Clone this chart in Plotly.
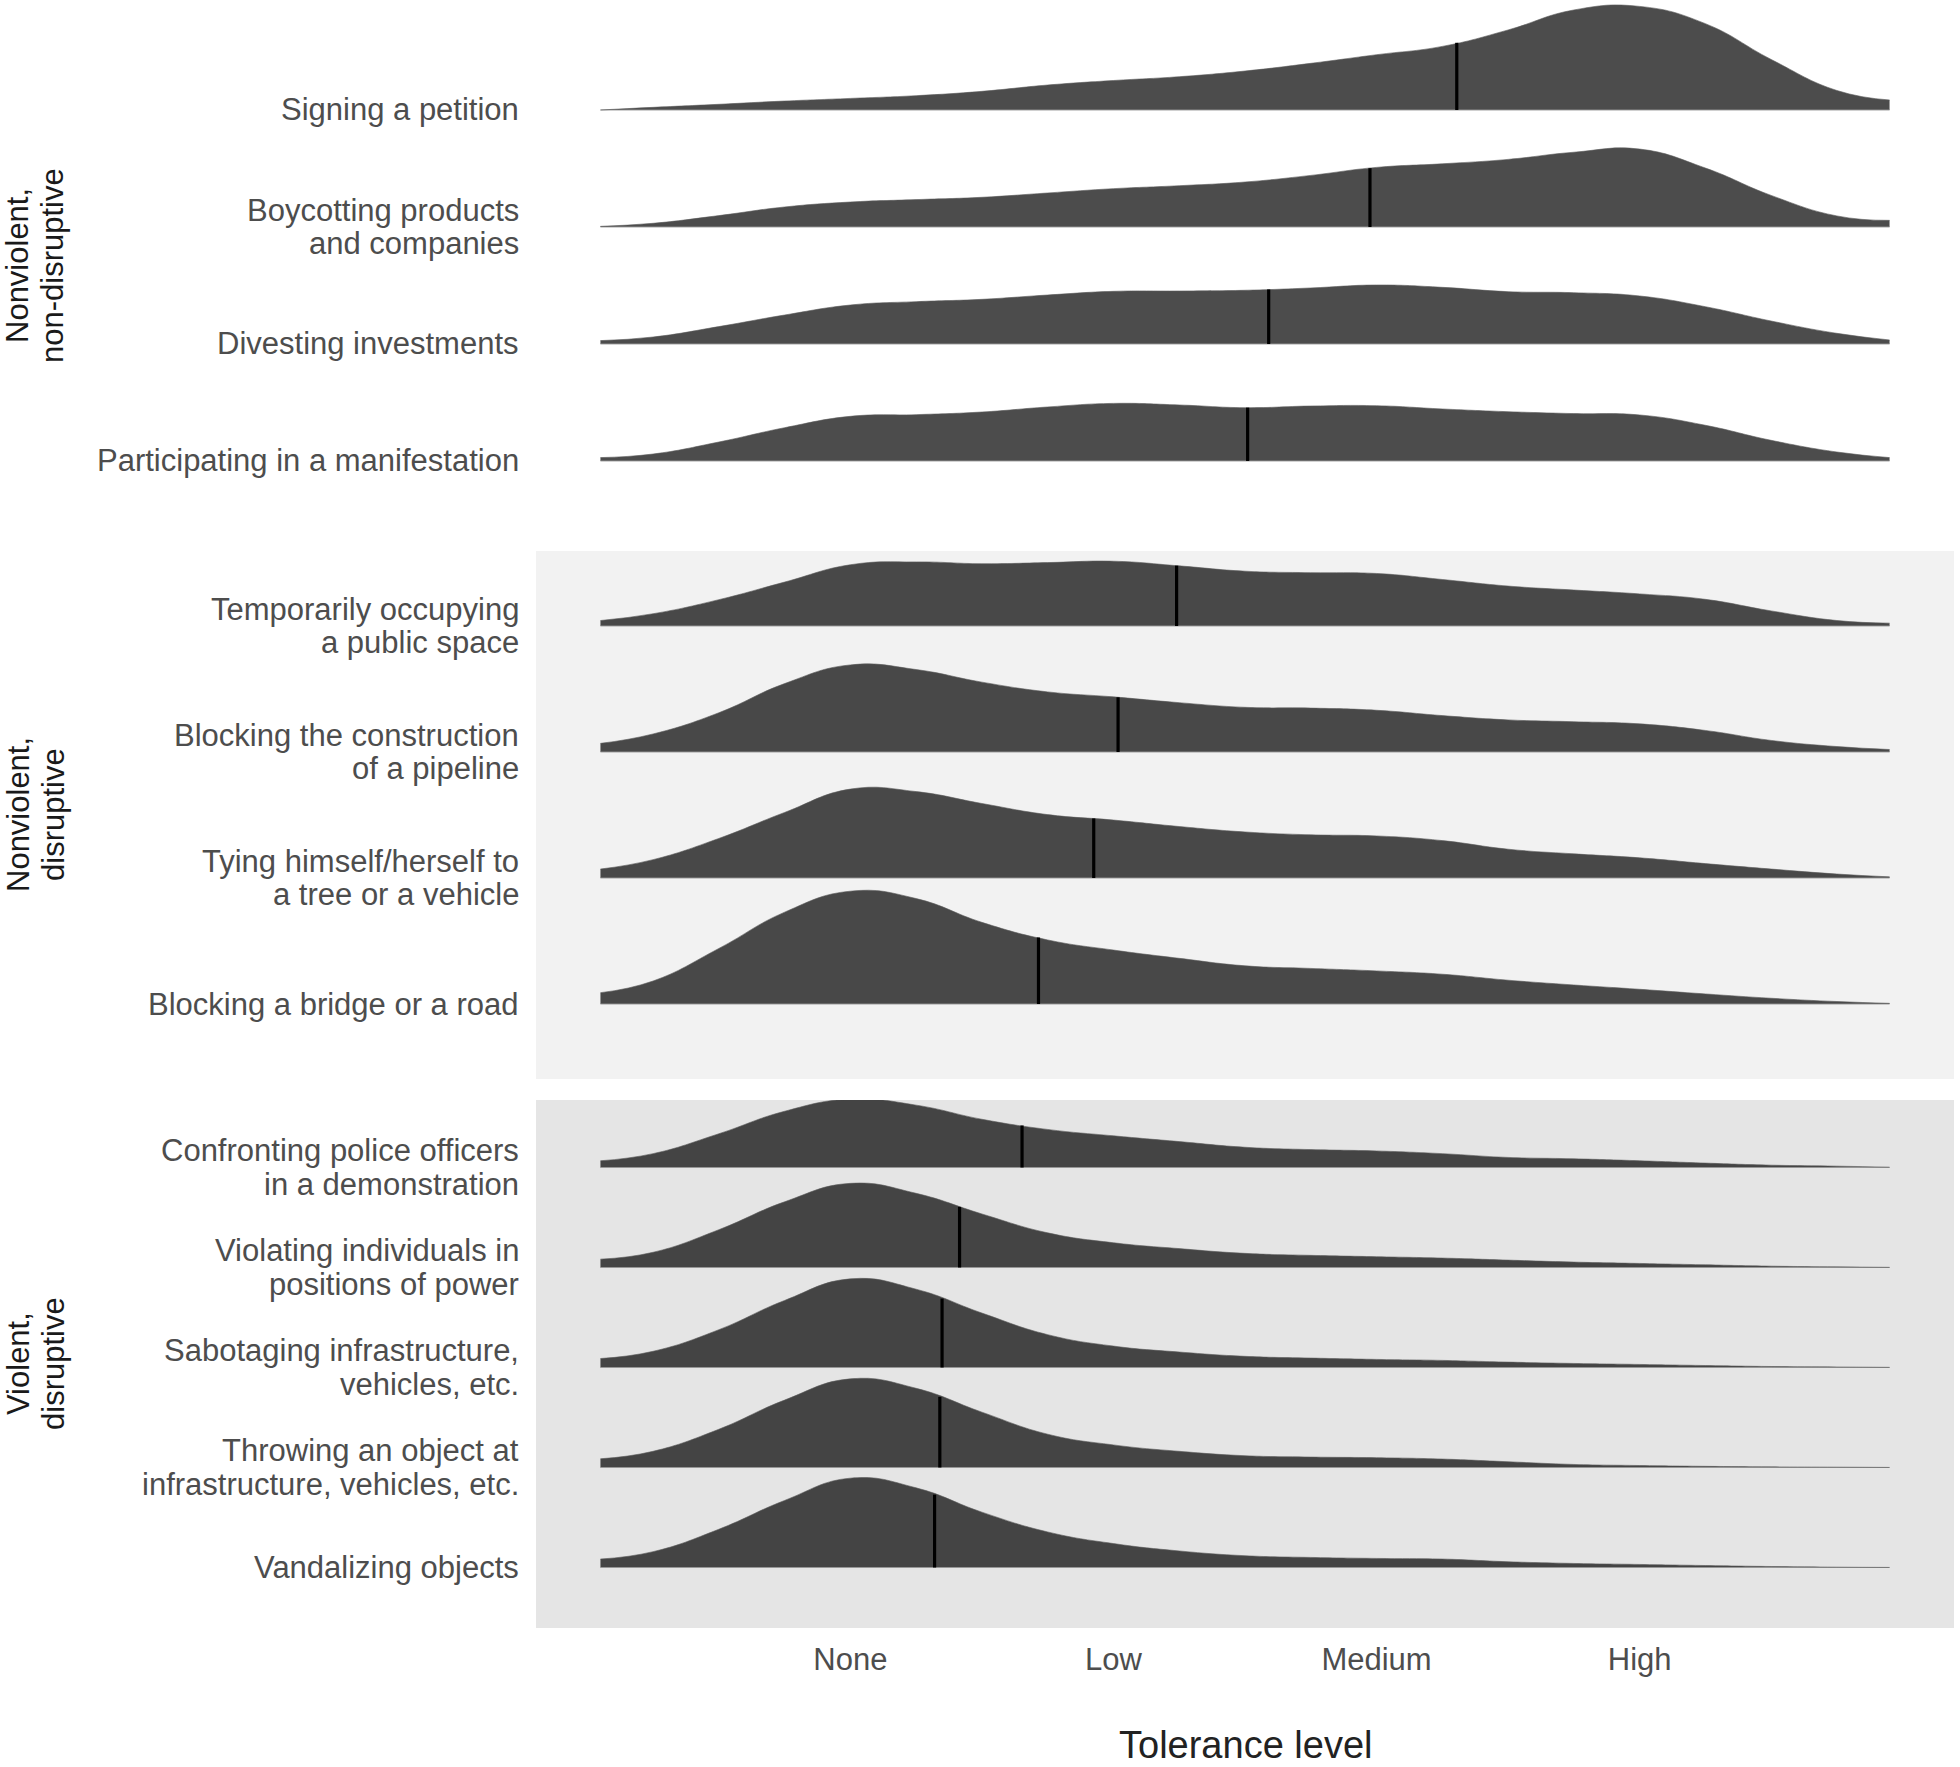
import numpy as np
import plotly.graph_objects as go

W, H = 1960, 1767

# ---------------- data ----------------
x_grid = [1, 5, 10, 15, 20, 25, 30, 35, 40, 45, 50, 55, 60, 65, 70, 75, 80, 85, 90, 95, 99]

tick_vals = [20, 40, 60, 80]
tick_text = ["None", "Low", "Medium", "High"]

group_titles = ["Nonviolent,\nnon-disruptive", "Nonviolent,\ndisruptive", "Violent,\ndisruptive"]

# group 1 (top to bottom)
labels_g1 = ["Signing a petition", "Boycotting products\nand companies",
             "Divesting investments", "Participating in a manifestation"]
dens_signing = [0, 2.5, 5.4, 8.5, 11, 13.6, 17.7, 23.7, 28, 31.6, 37, 44.3, 52.5, 60.4, 76, 95, 98.4, 82, 48, 18.5, 9.5]
dens_boycott = [0.6, 3.5, 10.8, 19, 23.7, 26, 28.2, 32.3, 36.4, 39.2, 42.7, 49, 56.6, 60, 64.2, 71, 74, 56, 30, 10.5, 6.3]
dens_divest = [3.2, 6.6, 16.5, 27.5, 37, 40.2, 42.4, 46.5, 50, 50.3, 51, 53.2, 56, 53.8, 49.7, 48.7, 45.6, 35.4, 21.8, 10.1, 3.8]
dens_manif = [3.2, 6.6, 18, 31.6, 42.4, 44, 46.5, 51.3, 54.7, 53.2, 50.6, 52.2, 52.5, 49.4, 46.8, 45, 43.7, 33.9, 19.6, 8.5, 3.2]
medians_g1 = [66.1, 59.5, 51.8, 50.2]

# group 2
labels_g2 = ["Temporarily occupying\na public space", "Blocking the construction\nof a pipeline",
             "Tying himself/herself to\na tree or a vehicle", "Blocking a bridge or a road"]
dens_occupy = [4.8, 10.8, 23.2, 38.7, 54, 56.5, 54.9, 55.9, 57.1, 53, 48.3, 47, 46.3, 41, 35.2, 31.7, 28.3, 23.5, 13.3, 4.8, 2.5]
dens_pipeline = [7.6, 15.9, 34.6, 60.3, 76.8, 72.7, 61.6, 53, 48.6, 43.5, 39.4, 38.7, 36.8, 32.1, 28.3, 26.7, 24.8, 19, 10.2, 4.8, 2.2]
dens_tying = [7.9, 16.2, 34.9, 57.8, 78.4, 76.2, 65.7, 55.9, 51.1, 45.4, 40.6, 38.1, 37.1, 33, 25.4, 21.3, 17.8, 12.7, 7.9, 3.5, 1]
dens_bridge = [10, 20.3, 49, 81, 99.5, 93, 72, 56.5, 47.6, 40.3, 33.7, 31.4, 29.2, 26.3, 21, 16.8, 13, 8.9, 5.1, 2.2, 0.6]
medians_g2 = [44.8, 40.35, 38.5, 34.3]

# group 3
labels_g3 = ["Confronting police officers\nin a demonstration", "Violating individuals in\npositions of power",
             "Sabotaging infrastructure,\nvehicles, etc.", "Throwing an object at\ninfrastructure, vehicles, etc.",
             "Vandalizing objects"]
dens_police = [7.5, 15.4, 37.5, 62.5, 76, 69.3, 53.6, 42.3, 35.2, 28.8, 22.5, 19.9, 18.4, 15.4, 11.2, 9.7, 7.5, 4.9, 2.6, 1.5, 0.4]
dens_violating = [9.3, 16.9, 42, 73, 93.5, 82.4, 59.5, 38.5, 27.5, 21, 15.7, 13.5, 12, 10.5, 8.2, 6, 4.5, 3, 1.5, 0.7, 0.2]
dens_sabotage = [10, 18, 42, 74.5, 98.5, 87, 60.5, 36.5, 23.8, 17.2, 12.4, 10.5, 9, 7.9, 6, 4.5, 3.4, 2.2, 1.1, 0.6, 0.2]
dens_throwing = [9.7, 18, 42.5, 74.9, 98.5, 88, 61.5, 37, 25.1, 18, 13.1, 11.6, 10.9, 9.4, 6.4, 3.4, 2.2, 1.3, 0.7, 0.4, 0.1]
dens_vandal = [9.4, 17.6, 42.5, 74.5, 99.3, 88.5, 61.5, 39.5, 26.6, 18.4, 13.1, 11.2, 10.1, 9.4, 6.4, 4.5, 3.4, 2.2, 1.1, 0.4, 0.1]
medians_g3 = [33.05, 28.3, 26.97, 26.8, 26.4]

groups = [
    (labels_g1, [dens_signing, dens_boycott, dens_divest, dens_manif], medians_g1),
    (labels_g2, [dens_occupy, dens_pipeline, dens_tying, dens_bridge], medians_g2),
    (labels_g3, [dens_police, dens_violating, dens_sabotage, dens_throwing, dens_vandal], medians_g3),
]

# ---------------- layout geometry (pixels) ----------------
panel_left, panel_right = 536, 1954
panels_px = [(2, 530), (551, 1079), (1100, 1628)]
y_ranges = [(0.41, 4.923), (0.405, 4.595), (0.395, 5.675)]
panel_bg = [None, "#f2f2f2", "#e5e5e5"]
ridge_scale = 0.9
label_right_px = 521
line_gap_px = 33.75

FONT = "Liberation Sans, Arial, sans-serif"
fill_col = "rgba(0,0,0,0.7)"

fig = go.Figure()
annotations = []
shapes = []

for gi, (labels, dens_list, meds) in enumerate(groups):
    yname = "y" if gi == 0 else f"y{gi + 1}"
    n = len(labels)
    for ri, (lab, dens, med) in enumerate(zip(labels, dens_list, meds)):
        row = n - ri  # top row has largest index
        h = np.array(dens) / 100.0 * ridge_scale
        fig.add_trace(go.Scatter(x=x_grid, y=[row] * len(x_grid), mode="lines",
                                 line=dict(color="rgba(150,150,150,0.9)", width=1),
                                 xaxis="x", yaxis=yname, hoverinfo="skip", showlegend=False))
        fig.add_trace(go.Scatter(x=x_grid, y=row + h, mode="lines", fill="tonexty",
                                 fillcolor=fill_col,
                                 line=dict(color="rgba(90,90,90,0.6)", width=1, shape="spline", smoothing=1.3),
                                 xaxis="x", yaxis=yname, hoverinfo="skip", showlegend=False))
        hm = float(np.interp(med, x_grid, h))
        fig.add_trace(go.Scatter(x=[med, med], y=[row, row + hm], mode="lines",
                                 line=dict(color="black", width=3.2),
                                 xaxis="x", yaxis=yname, hoverinfo="skip", showlegend=False))
        lines = lab.split("\n")
        k = len(lines)
        for li, txt in enumerate(lines):
            shift = ((k - 1) / 2.0 - li) * line_gap_px
            annotations.append(dict(x=label_right_px / W, xref="paper", y=row, yref=yname,
                                    yshift=shift, text=txt, showarrow=False,
                                    xanchor="right", yanchor="middle",
                                    font=dict(family=FONT, size=31, color="#4d4d4d")))
    top, bot = panels_px[gi]
    if panel_bg[gi]:
        shapes.append(dict(type="rect", xref="paper", yref="paper",
                           x0=panel_left / W, x1=panel_right / W,
                           y0=1 - bot / H, y1=1 - top / H,
                           fillcolor=panel_bg[gi], line=dict(width=0), layer="below"))
    # facet strip (rotated) title
    tl = group_titles[gi].split("\n")
    cy = 1 - (top + bot) / 2.0 / H
    for li, txt in enumerate(tl):
        annotations.append(dict(x=(18 + 35 * li) / W, xref="paper", y=cy, yref="paper",
                                text=txt, showarrow=False, textangle=-90,
                                xanchor="center", yanchor="middle",
                                font=dict(family=FONT, size=31, color="#1a1a1a")))

annotations.append(dict(x=(panel_left + panel_right) / 2 / W, xref="paper", y=1 - 1745 / H, yref="paper",
                        text="Tolerance level", showarrow=False, xanchor="center", yanchor="middle",
                        borderpad=0, font=dict(family=FONT, size=38, color="#222222")))

layout = dict(
    width=W, height=H, margin=dict(l=0, r=0, t=0, b=0),
    paper_bgcolor="white", plot_bgcolor="rgba(0,0,0,0)",
    showlegend=False, shapes=shapes, annotations=annotations,
    xaxis=dict(domain=[panel_left / W, panel_right / W], range=[-3.9, 103.9], anchor="y3",
               tickvals=tick_vals, ticktext=tick_text, showgrid=False, zeroline=False,
               showline=False, ticks="outside", ticklen=4, tickcolor="rgba(0,0,0,0)",
               tickfont=dict(family=FONT, size=31, color="#4d4d4d")),
)
for gi in range(3):
    top, bot = panels_px[gi]
    key = "yaxis" if gi == 0 else f"yaxis{gi + 1}"
    layout[key] = dict(domain=[1 - bot / H, 1 - top / H], range=list(y_ranges[gi]), anchor="x",
                       visible=False, showgrid=False, zeroline=False)

fig.update_layout(**layout)
fig.write_html("out.html")
